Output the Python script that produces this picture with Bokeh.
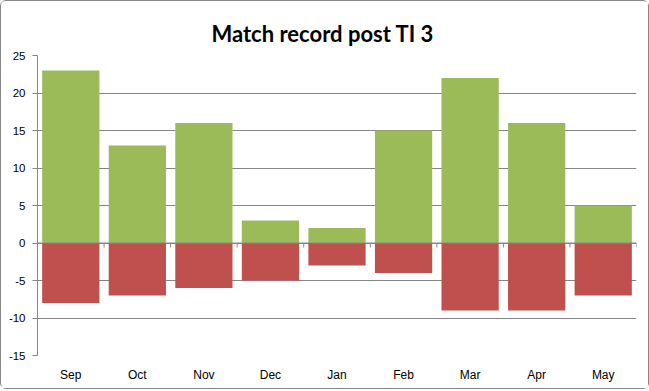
from bokeh.plotting import figure
from bokeh.embed import file_html
from bokeh.resources import INLINE
from bokeh.models import ColumnDataSource, Span
from bokeh.transform import dodge

months = ["Sep", "Oct", "Nov", "Dec", "Jan", "Feb", "Mar", "Apr", "May"]
wins = [23, 13, 16, 3, 2, 15, 22, 16, 5]
losses = [-8, -7, -6, -5, -3, -4, -9, -9, -7]
y_ticks = [-15, -10, -5, 0, 5, 10, 15, 20, 25]

src = ColumnDataSource(data=dict(month=months, wins=wins, losses=losses))

p = figure(x_range=months, y_range=(-15, 25), frame_width=599, frame_height=300,
           min_border_left=36, min_border_right=12, min_border_top=54, min_border_bottom=33,
           output_backend="svg", toolbar_location=None, title="Match record post TI 3")

p.title.text_font = "Lato"
p.title.text_font_size = "22px"
p.title.text_font_style = "bold"
p.title.text_color = "#000000"
p.title.align = "left"
p.title.offset = 174
p.title.standoff = 17

p.vbar(x="month", top="wins", bottom=0, width=0.86, source=src,
       fill_color="#9BBB59", line_color=None)
p.vbar(x="month", top=0, bottom="losses", width=0.86, source=src,
       fill_color="#C0504D", line_color=None)

# category axis line at zero with tick marks between categories
p.add_layout(Span(location=0, dimension="width", line_color="#868686", line_width=1))
p.segment(x0=dodge("month", 0.5, range=p.x_range), y0=0,
          x1=dodge("month", 0.5, range=p.x_range), y1=-0.6,
          source=src, line_color="#868686", line_width=1)

p.yaxis.ticker = y_ticks
p.yaxis.major_label_overrides = {t: str(t) for t in y_ticks}
p.yaxis.axis_line_color = "#868686"
p.yaxis.major_tick_line_color = "#868686"
p.yaxis.major_tick_out = 5
p.yaxis.major_tick_in = 0
p.yaxis.minor_tick_line_color = None
p.yaxis.major_label_text_font = "Liberation Sans"
p.yaxis.major_label_text_font_size = "11.5px"
p.yaxis.major_label_text_color = "#000000"
p.yaxis.major_label_standoff = 7

p.xaxis.axis_line_color = None
p.xaxis.major_tick_line_color = None
p.xaxis.minor_tick_line_color = None
p.xaxis.major_label_text_font = "Liberation Sans"
p.xaxis.major_label_text_font_size = "12px"
p.xaxis.major_label_text_color = "#000000"
p.xaxis.major_label_standoff = 6

p.xgrid.grid_line_color = None
p.ygrid.grid_line_color = "#868686"
p.ygrid.ticker = y_ticks
p.outline_line_color = None
p.background_fill_color = "white"
p.border_fill_color = "white"
p.styles = {"border": "1px solid #868686", "border-radius": "6px", "box-sizing": "border-box"}

open("out.html", "w").write(file_html(p, INLINE))
